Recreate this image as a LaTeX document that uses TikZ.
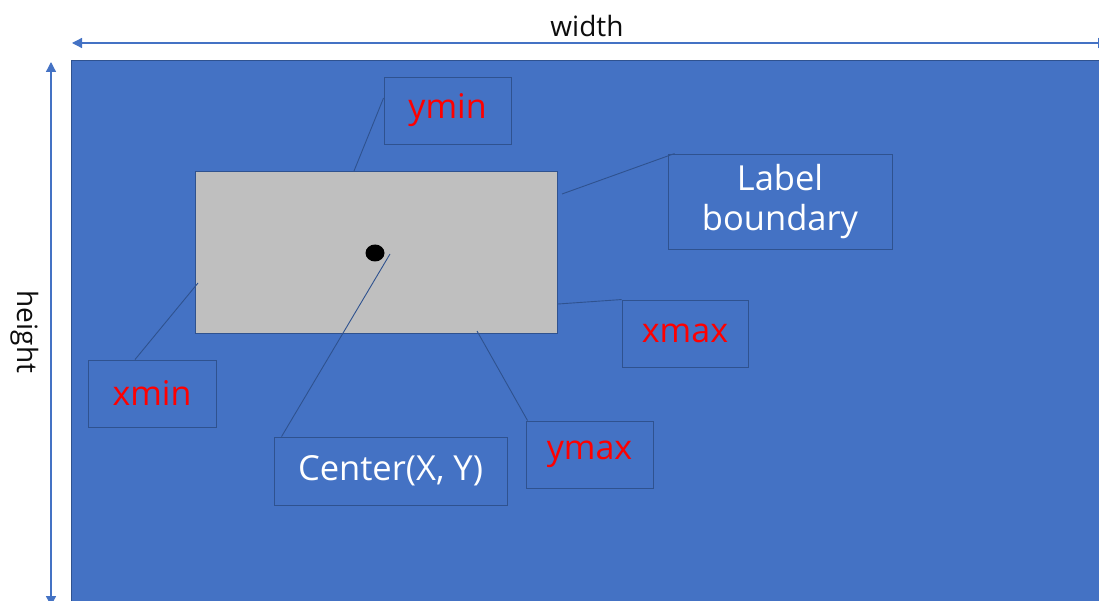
\documentclass[tikz,border=0pt]{standalone}
\usepackage{fontspec}
\setmainfont{Open Sans}
\usetikzlibrary{arrows.meta,shapes.geometric}
\definecolor{fillblue}{HTML}{4472C4}
\definecolor{edgeblue}{HTML}{2F528F}
\definecolor{boxgray}{HTML}{BFBFBF}
\definecolor{inkdark}{HTML}{0D0D0D}
\tikzset{
  tag/.style={draw=edgeblue, line width=0.9pt, inner sep=0pt, align=center},
  redtag/.style={tag, text=red, font=\fontsize{34}{40}\selectfont},
  whitetag/.style={tag, text=white, font=\fontsize{34.5}{40}\selectfont},
  leader/.style={draw=edgeblue, line width=0.9pt},
  dimline/.style={draw=fillblue, line width=1.3pt,
    {Triangle[length=10pt,width=10pt]}-{Triangle[length=10pt,width=10pt]}},
  dimtext/.style={text=inkdark, font=\fontsize{28}{32}\selectfont, inner sep=0pt}
}
\begin{document}
\begin{tikzpicture}[x=1pt,y=-1pt]
\useasboundingbox (0,0) rectangle (1099,601);

% image area
\fill[fillblue] (71,61) rectangle (1110,610);
\draw[edgeblue, line width=1pt] (71,610) -- (71,61) -- (1110,61);

% dimension arrows
\coordinate (wl) at (72,43);
\coordinate (wr) at (1108,43);
\coordinate (ht) at (51,62);
\coordinate (hb) at (51,606);
\draw[dimline] (wl) -- (wr);
\draw[dimline] (ht) -- (hb);
\node[dimtext] (wlab) at (587,26) {width};
\node[dimtext, rotate=-90] (hlab) at (25,332) {height};

% label boundary rectangle and its center point
\node[draw=edgeblue, fill=boxgray, line width=0.9pt, minimum width=362pt, minimum height=162pt, inner sep=0pt] (bbox) at (376,252) {};
\node[fill=black, ellipse, minimum width=19pt, minimum height=17pt, inner sep=0pt] (dot) at (375,253) {};

% callout boxes
\node[redtag, minimum width=127pt, minimum height=67pt] (ymin) at (447.5,110.5) {ymin};
\node[whitetag, minimum width=224pt, minimum height=95pt] (lab) at (780,201.5) {Label\\boundary};
\node[redtag, minimum width=126pt, minimum height=67pt] (xmax) at (685,333.5) {xmax};
\node[redtag, minimum width=128pt, minimum height=67pt] (xmin) at (152,393.5) {xmin};
\node[whitetag, minimum width=233pt, minimum height=68pt] (ctr) at (390.5,471) {Center(X, Y)};
\node[redtag, minimum width=127pt, minimum height=67pt] (ymax) at (589.5,454.5) {ymax};

% pointer targets
\coordinate (pymin) at (354,171);
\coordinate (plab) at (562,194);
\coordinate (pxmin) at (198,283);
\coordinate (pxmax) at (558,304);
\coordinate (pctr) at (390,254);
\coordinate (pymax) at (477,331);

% leader lines
\draw[leader] ([yshift=12.5pt]ymin.west) -- (pymin);
\draw[leader] ([xshift=7pt]lab.north west) -- (plab);
\draw[leader] ([xshift=-17pt]xmin.north) -- (pxmin);
\draw[leader] (xmax.north west) -- (pxmax);
\draw[leader] ([xshift=8pt]ctr.north west) -- (pctr);
\draw[leader] ([xshift=2pt]ymax.north west) -- (pymax);
\end{tikzpicture}
\end{document}
